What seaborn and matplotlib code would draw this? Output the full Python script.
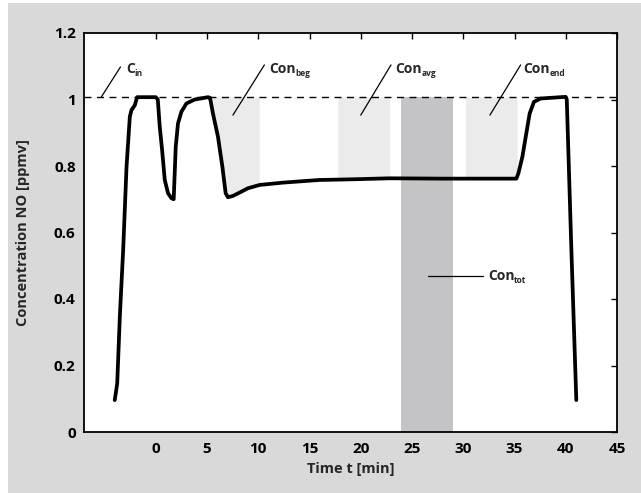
import numpy as np
import pandas as pd
import matplotlib
matplotlib.use("Agg")
import matplotlib.pyplot as plt
from matplotlib.patches import Rectangle
from matplotlib.transforms import offset_copy
import seaborn as sns

# ---------------- data ----------------
time_min = [-4.0, -3.76, -3.5, -3.18, -2.85, -2.53, -2.37, -2.04, -1.82, 0.0, 0.2,
            0.39, 0.62, 0.88, 1.2, 1.53, 1.75, 1.95, 2.17, 2.5, 2.99, 3.8, 5.1,
            5.3, 5.58, 6.07, 6.5, 6.82, 7.04, 7.53, 8.18, 8.99, 10.13, 12.4,
            15.97, 19.2, 22.8, 28.0, 35.18, 35.38, 35.77, 36.15, 36.48, 36.9,
            37.55, 40.0, 40.1, 40.55, 41.03]
conc_no = [0.096, 0.146, 0.35, 0.547, 0.798, 0.948, 0.968, 0.983, 1.007, 1.007,
           1.0, 0.918, 0.848, 0.758, 0.718, 0.703, 0.70, 0.858, 0.928, 0.963,
           0.988, 1.0, 1.007, 1.005, 0.958, 0.888, 0.798, 0.718, 0.706, 0.71,
           0.72, 0.733, 0.743, 0.75, 0.758, 0.76, 0.763, 0.762, 0.762, 0.778,
           0.828, 0.898, 0.958, 0.993, 1.003, 1.008, 1.0, 0.547, 0.096]
c_in = 1.008

# evaluation windows (start, end) in minutes
win_names = ["beg", "avg", "end"]
win_start = [5.55, 17.75, 30.2]
win_end = [10.1, 22.8, 35.25]
tot_window = (23.95, 29.0)

# annotation labels: main text, subscript, text position and leader line
ann_main = ["C", "Con", "Con", "Con"]
ann_sub = ["in", "beg", "avg", "end"]
ann_text_x = [-2.85, 11.1, 23.4, 35.9]
ann_text_y = [1.08, 1.08, 1.08, 1.08]
ann_line_x0 = [-5.3, 7.53, 20.0, 32.6]
ann_line_y0 = [1.008, 0.953, 0.953, 0.953]
ann_line_x1 = [-3.44, 10.6, 22.95, 35.6]
ann_line_y1 = [1.098, 1.104, 1.104, 1.104]

tot_main, tot_sub = "Con", "tot"
tot_text = (32.4, 0.456)
tot_line_x = (26.6, 31.9)
tot_line_y = 0.47

x_ticks = [0, 5, 10, 15, 20, 25, 30, 35, 40, 45]
y_ticks = [0, 0.2, 0.4, 0.6, 0.8, 1.0, 1.2]
y_ticklabels = ["0", "0.2", "0.4", "0.6", "0.8", "1", "1.2"]

df = pd.DataFrame({"t": time_min, "c": conc_no})

# ---------------- style ----------------
sns.set_theme(style="white")
plt.rcParams["font.family"] = ["Open Sans", "DejaVu Sans"]

BG = "#d9d9d9"
LIGHT = "#ebebeb"
DARK = "#c4c4c6"
DPI = 100

fig = plt.figure(figsize=(6.41, 4.93), dpi=DPI)
fig.patch.set_facecolor("white")
fig.patches.append(Rectangle((8 / 641, 0.0), 1 - 8 / 641, 1 - 3 / 493,
                             transform=fig.transFigure, facecolor=BG,
                             edgecolor="none", zorder=-10))
ax = fig.add_axes([84 / 641, 1 - 432 / 493, (617 - 84) / 641, (432 - 33) / 493])
ax.set_facecolor("white")

# shaded windows
t_arr = np.array(time_min)
c_arr = np.array(conc_no)
for s, e in zip(win_start, win_end):
    tt = np.linspace(s, e, 60)
    cc = np.interp(tt, t_arr, c_arr)
    ax.fill_between(tt, cc, c_in, color=LIGHT, lw=0, zorder=1)
ax.fill_between(list(tot_window), 0, c_in, color=DARK, lw=0, zorder=1)

# C_in dashed line
ax.axhline(c_in, color="black", lw=1.0, ls=(0, (5, 4)), zorder=2)

# concentration curve
sns.lineplot(data=df, x="t", y="c", ax=ax, color="black", lw=2.7,
             sort=False, zorder=4, legend=False)

# axes
ax.set_xlim(-7, 45)
ax.set_ylim(0, 1.2)
ax.set_xticks(x_ticks)
ax.set_xticklabels([str(v) for v in x_ticks])
ax.set_yticks(y_ticks)
ax.set_yticklabels(y_ticklabels)
ax.tick_params(direction="in", length=4, width=1.0, top=True, right=True,
               labelsize=11, colors="black")
ax.tick_params(axis="x", pad=7)
ax.tick_params(axis="y", pad=6)
for lab in ax.get_xticklabels() + ax.get_yticklabels():
    lab.set_fontweight("bold")
for sp in ax.spines.values():
    sp.set_visible(True)
    sp.set_color("black")
    sp.set_linewidth(1.3)

ax.set_xlabel("Time t [min]", fontsize=10.5, fontweight="bold")
ax.set_ylabel("Concentration NO [ppmv]", fontsize=10.5, fontweight="bold")
ax.xaxis.set_label_coords(0.5, -0.075)
ax.yaxis.set_label_coords(-0.102, 0.5)

renderer = fig.canvas.get_renderer()


def label_with_sub(x, y, main, sub):
    t = ax.text(x, y, main, fontsize=10, fontweight="bold", ha="left",
                va="baseline", zorder=6)
    w = t.get_window_extent(renderer=renderer).width * 72.0 / DPI
    tr = offset_copy(ax.transData, fig=fig, x=w - 0.4, y=-2.0, units="points")
    ax.text(x, y, sub, fontsize=6, fontweight="bold", ha="left",
            va="baseline", transform=tr, zorder=6)


# annotations
for m, s, tx, ty, x0, y0, x1, y1 in zip(ann_main, ann_sub, ann_text_x, ann_text_y,
                                         ann_line_x0, ann_line_y0,
                                         ann_line_x1, ann_line_y1):
    ax.plot([x0, x1], [y0, y1], color="black", lw=0.9, zorder=5)
    label_with_sub(tx, ty, m, s)

ax.plot(list(tot_line_x), [tot_line_y, tot_line_y], color="black", lw=0.9, zorder=5)
label_with_sub(tot_text[0], tot_text[1], tot_main, tot_sub)

fig.savefig("out.png", dpi=DPI, facecolor=fig.get_facecolor())
